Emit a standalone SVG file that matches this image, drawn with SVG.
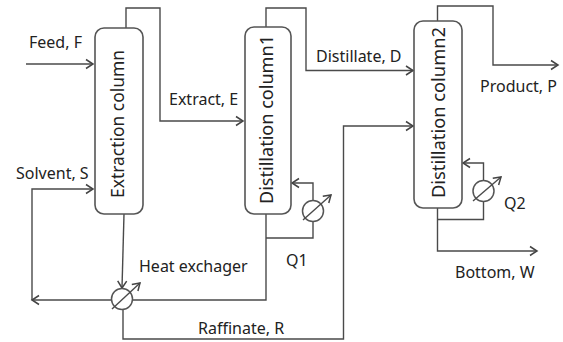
<svg xmlns="http://www.w3.org/2000/svg" width="563" height="342" viewBox="0 0 563 342">
<style>
.l{fill:none;stroke:#4a4a4a;stroke-width:1.4}
.c{fill:#fff;stroke:#555;stroke-width:1.6}
.h{fill:#fff;stroke:#555;stroke-width:1.5}
.t{font-family:"Noto Sans","Open Sans",sans-serif;font-size:16px;fill:#222}
.r{font-size:17.800px}
</style>
<defs>
<marker id="ah" markerUnits="userSpaceOnUse" markerWidth="12" markerHeight="12" refX="9" refY="6" orient="auto"><path d="M2 1.500L9 6L2 10.500" fill="none" stroke="#444" stroke-width="1.500"/></marker>
</defs>
<g id="connectors">
<path class="l" d="M126 28V8H160V121H243" marker-end="url(#ah)"/>
<path class="l" d="M26 64H93" marker-end="url(#ah)"/>
<path class="l" d="M32 300V189H93" marker-end="url(#ah)"/>
<path class="l" d="M112 300H32" marker-end="url(#ah)"/>
<path class="l" d="M124 214L122 288" marker-end="url(#ah)"/>
<path class="l" d="M132 300H266V214"/>
<path class="l" d="M123 310V339H343.500V126H413" marker-end="url(#ah)"/>
<path class="l" d="M266 28V8H306V70.500H413" marker-end="url(#ah)"/>
<path class="l" d="M266 238H313V183H292" marker-end="url(#ah)"/>
<path class="l" d="M437.500 21V6H493V65H558" marker-end="url(#ah)"/>
<path class="l" d="M437.500 208V251H537" marker-end="url(#ah)"/>
<path class="l" d="M437.500 219.500H483.500V163H463" marker-end="url(#ah)"/>
</g>
<g id="extraction-column"><rect class="c" x="95" y="28" width="48" height="186" rx="9"/><text class="t r" transform="translate(124 198) rotate(-90)" textLength="148" lengthAdjust="spacingAndGlyphs">Extraction column</text></g>
<g id="distillation-column1"><rect class="c" x="245" y="27" width="46" height="187" rx="9"/><text class="t r" transform="translate(273 204) rotate(-90)" textLength="169" lengthAdjust="spacingAndGlyphs">Distillation column1</text></g>
<g id="distillation-column2"><rect class="c" x="414" y="21" width="48" height="187" rx="9"/><text class="t r" transform="translate(445 198) rotate(-90)" textLength="171" lengthAdjust="spacingAndGlyphs">Distillation column2</text></g>
<g id="heat-exchanger"><circle class="h" cx="122" cy="299" r="10.500"/><path class="l" d="M112 309L140 283" marker-end="url(#ah)"/></g>
<g id="q1-exchanger"><circle class="h" cx="313" cy="211" r="10.500"/><path class="l" d="M303 220L331 195" marker-end="url(#ah)"/></g>
<g id="q2-exchanger"><circle class="h" cx="483.500" cy="191" r="10.500"/><path class="l" d="M473 201L501 177" marker-end="url(#ah)"/></g>
<g id="labels">
<text class="t" x="29" y="48">Feed, F</text>
<text class="t" x="169" y="105">Extract, E</text>
<text class="t" x="16" y="179">Solvent, S</text>
<text class="t" x="139" y="272">Heat exchager</text>
<text class="t" x="198" y="334">Raffinate, R</text>
<text class="t" x="316" y="62">Distillate, D</text>
<text class="t" x="480" y="92">Product, P</text>
<text class="t" x="286" y="266">Q1</text>
<text class="t" x="504" y="209">Q2</text>
<text class="t" x="455" y="278">Bottom, W</text>
</g>
</svg>
